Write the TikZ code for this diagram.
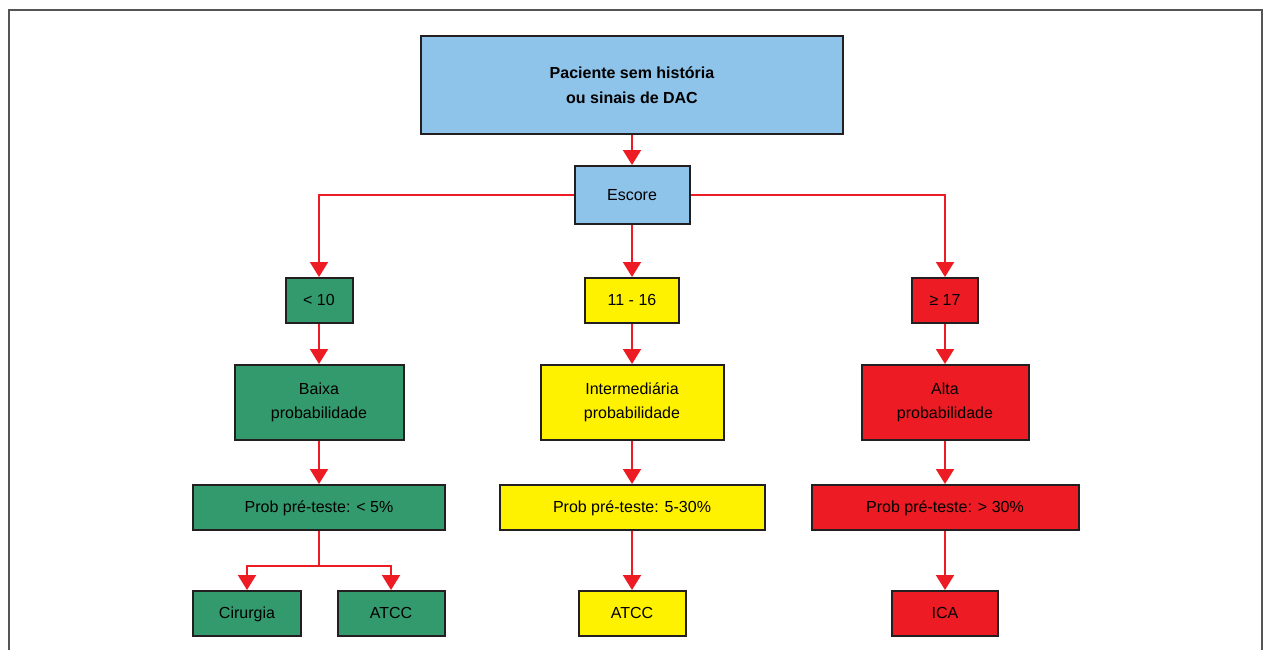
\documentclass[tikz,border=0pt]{standalone}
\usepackage{fontspec}
\setmainfont{Liberation Sans}
\usetikzlibrary{arrows.meta}
\definecolor{lblue}{HTML}{8EC3EA}
\definecolor{dgreen}{HTML}{339A6E}
\definecolor{yel}{HTML}{FFF200}
\definecolor{rd}{HTML}{ED1C24}
\definecolor{framec}{HTML}{555555}
\definecolor{edge}{HTML}{231F20}
\begin{document}
\begin{tikzpicture}[x=1pt,y=-1pt,
  box/.style={draw=edge, line width=2pt, inner sep=0pt, align=center,
    font=\fontsize{16}{24}\selectfont},
  one/.style={box, text height=12pt, text depth=1.5pt},
  conn/.style={draw=rd, line width=2pt, -{Triangle[width=18pt,length=15pt]}},
  plain/.style={draw=rd, line width=2pt}]
\clip (0,0) rectangle (1266,649);
\useasboundingbox (0,0) rectangle (1266,649);
\draw[framec, line width=2pt] (9,10) rectangle (1262,700);

\node[box, fill=lblue, minimum width=422pt, minimum height=98pt, font=\fontsize{16}{25}\selectfont\bfseries]
  (top) at (632,85) {Paciente sem história\\ou sinais de DAC};
\node[one, fill=lblue, minimum width=115pt, minimum height=58pt] (esc) at (632,195) {Escore};

\node[one, fill=dgreen, minimum width=67pt, minimum height=45pt] (lt) at (319,300.5) {< 10};
\node[one, fill=yel, minimum width=94pt, minimum height=45pt] (md) at (632,300.5) {11 - 16};
\node[one, fill=rd, minimum width=66pt, minimum height=45pt] (ge) at (945,300.5) {≥ 17};

\node[box, fill=dgreen, minimum width=169pt, minimum height=75pt] (baixa) at (319,402.5) {Baixa\\probabilidade};
\node[box, fill=yel, minimum width=183pt, minimum height=75pt] (inter) at (632,402.5) {Intermediária\\probabilidade};
\node[box, fill=rd, minimum width=167pt, minimum height=75pt] (alta) at (945,402.5) {Alta\\probabilidade};

\node[one, fill=dgreen, minimum width=252pt, minimum height=45pt] (pl) at (319,507.5) {Prob pré-teste: < 5\%};
\node[one, fill=yel, minimum width=265pt, minimum height=45pt] (pm) at (632,507.5) {Prob pré-teste: 5-30\%};
\node[one, fill=rd, minimum width=267pt, minimum height=45pt] (ph) at (945,507.5) {Prob pré-teste: > 30\%};

\node[one, fill=dgreen, minimum width=108pt, minimum height=45pt] (cir) at (247,613.5) {Cirurgia};
\node[one, fill=dgreen, minimum width=107pt, minimum height=45pt] (atl) at (391,613.5) {ATCC};
\node[one, fill=yel, minimum width=107pt, minimum height=45pt] (atm) at (632,613.5) {ATCC};
\node[one, fill=rd, minimum width=106pt, minimum height=45pt] (ica) at (945,613.5) {ICA};

\coordinate (br) at (319,566);

\draw[conn] (top.south -| esc.north) -- (esc.north);
\draw[conn] (esc.west) -| (lt.north);
\draw[conn] (esc.south) -- (md.north);
\draw[conn] (esc.east) -| (ge.north);
\draw[conn] (lt) -- (baixa);
\draw[conn] (md) -- (inter);
\draw[conn] (ge) -- (alta);
\draw[conn] (baixa) -- (pl);
\draw[conn] (inter) -- (pm);
\draw[conn] (alta) -- (ph);
\draw[plain] (pl.south) -- (br);
\draw[conn] (br) -| (cir.north);
\draw[conn] (br) -| (atl.north);
\draw[conn] (pm) -- (atm);
\draw[conn] (ph) -- (ica);
\end{tikzpicture}
\end{document}
